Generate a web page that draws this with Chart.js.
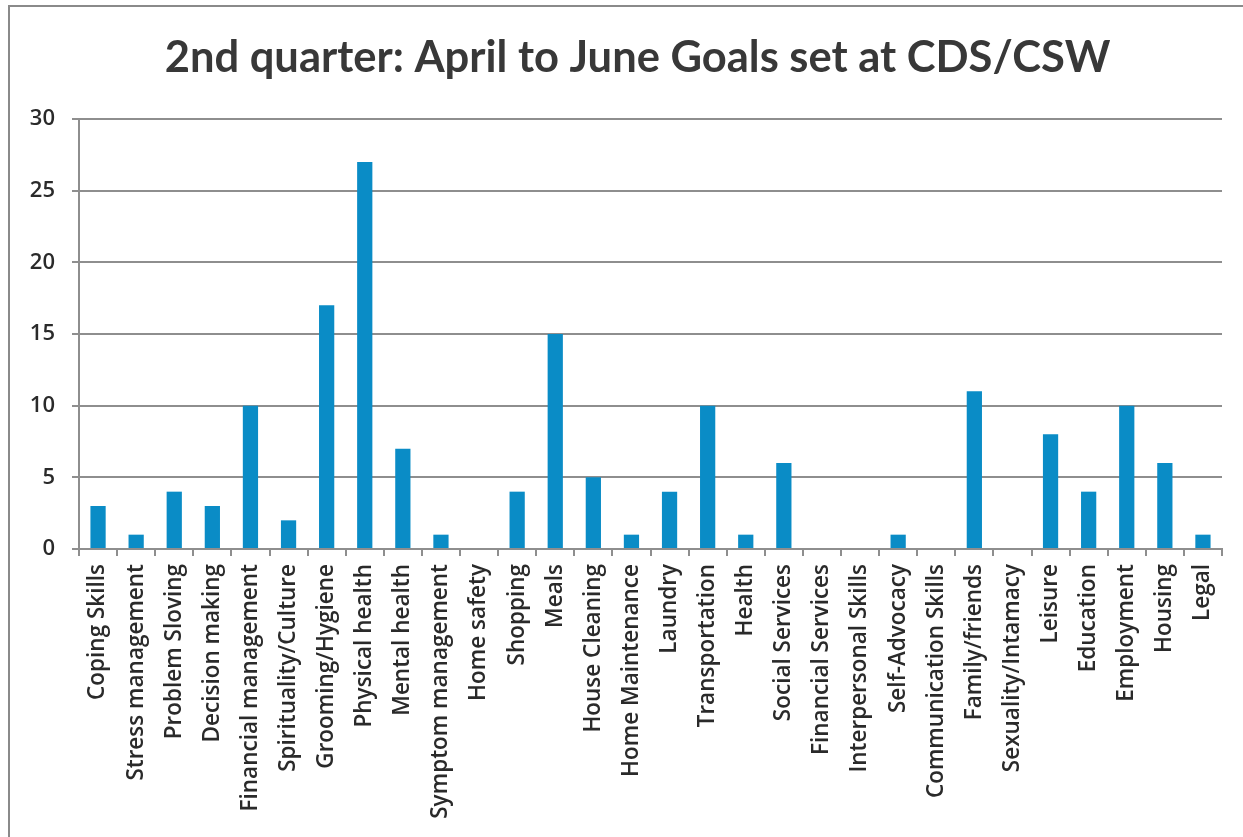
<!DOCTYPE html>
<html>
<head>
<meta charset="utf-8">
<title>Goals set at CDS/CSW</title>
<script src="https://cdn.jsdelivr.net/npm/chart.js@4/dist/chart.umd.min.js"></script>
<style>
  html, body { margin: 0; padding: 0; background: #fff; }
  #wrap { width: 1243px; height: 837px; }
</style>
</head>
<body>
<div id="wrap"><canvas id="goalsChart" width="1243" height="837"></canvas></div>
<script>
// goal areas and number of goals set in the quarter
const goalAreas = [
  'Coping Skills', 'Stress management', 'Problem Sloving', 'Decision making',
  'Financial management', 'Spirituality/Culture', 'Grooming/Hygiene',
  'Physical health', 'Mental health', 'Symptom management', 'Home safety',
  'Shopping', 'Meals', 'House Cleaning', 'Home Maintenance', 'Laundry',
  'Transportation', 'Health', 'Social Services', 'Financial Services',
  'Interpersonal Skills', 'Self-Advocacy', 'Communication Skills',
  'Family/friends', 'Sexuality/Intamacy', 'Leisure', 'Education',
  'Employment', 'Housing', 'Legal'
];
const goalCounts = [3, 1, 4, 3, 10, 2, 17, 27, 7, 1, 0, 4, 15, 5, 1, 4, 10, 1, 6, 0, 0, 1, 0, 11, 0, 8, 4, 10, 6, 1];
const yTicks = [0, 5, 10, 15, 20, 25, 30];

const chartTitle = '2nd quarter: April to June Goals set at CDS/CSW';
const gridGrey = '#8e8e8e';
const textColor = '#2a2a2a';

// white page with the grey frame on the left and top
const framePlugin = {
  id: 'frame',
  beforeDraw(chart) {
    const ctx = chart.ctx;
    ctx.save();
    ctx.fillStyle = '#ffffff';
    ctx.fillRect(0, 0, chart.width, chart.height);
    ctx.strokeStyle = '#8a8a8a';
    ctx.lineWidth = 2;
    ctx.beginPath();
    ctx.moveTo(9, chart.height);
    ctx.lineTo(9, 6);
    ctx.lineTo(chart.width, 6);
    ctx.stroke();
    ctx.restore();
  }
};

// title, sitting slightly left of the plot's middle
const headingPlugin = {
  id: 'heading',
  afterDraw(chart) {
    const ctx = chart.ctx;
    const area = chart.chartArea;
    ctx.save();
    ctx.fillStyle = '#383838';
    ctx.font = 'bold 43.5px Lato';
    ctx.textAlign = 'center';
    ctx.textBaseline = 'alphabetic';
    ctx.fillText(chartTitle, (area.left + area.right) / 2 - 13, 72);
    ctx.restore();
  }
};

document.addEventListener('DOMContentLoaded', function () {
  const ctx = document.getElementById('goalsChart').getContext('2d');
  new Chart(ctx, {
    type: 'bar',
    data: {
      labels: goalAreas,
      datasets: [{
        label: 'Goals',
        data: goalCounts,
        backgroundColor: '#0a8cc6',
        borderWidth: 0,
        barPercentage: 1,
        categoryPercentage: 0.4
      }]
    },
    options: {
      responsive: false,
      animation: false,
      layout: { padding: { left: 0, right: 21, top: 119, bottom: 0 } },
      plugins: {
        legend: { display: false },
        tooltip: { enabled: false },
        title: { display: false }
      },
      scales: {
        x: {
          offset: true,
          grid: {
            offset: true,
            drawOnChartArea: false,
            drawTicks: true,
            tickLength: 7,
            color: gridGrey,
            lineWidth: 2
          },
          border: { display: true, color: gridGrey, width: 2 },
          ticks: {
            autoSkip: false,
            minRotation: 90,
            maxRotation: 90,
            padding: 8,
            color: textColor,
            font: { family: 'Open Sans', size: 22.5, weight: '600' }
          },
          afterFit(scale) { scale.height = 837 - 549; }
        },
        y: {
          min: 0,
          max: 30,
          afterBuildTicks(scale) { scale.ticks = yTicks.map(v => ({ value: v })); },
          grid: {
            color: gridGrey,
            lineWidth: 2,
            tickLength: 7
          },
          border: { display: true, color: gridGrey, width: 2 },
          ticks: {
            padding: 17,
            color: textColor,
            font: { family: 'Open Sans', size: 22, weight: '600' }
          },
          afterFit(scale) { scale.width = 79; }
        }
      }
    },
    plugins: [framePlugin, headingPlugin]
  });
});
</script>
</body>
</html>
